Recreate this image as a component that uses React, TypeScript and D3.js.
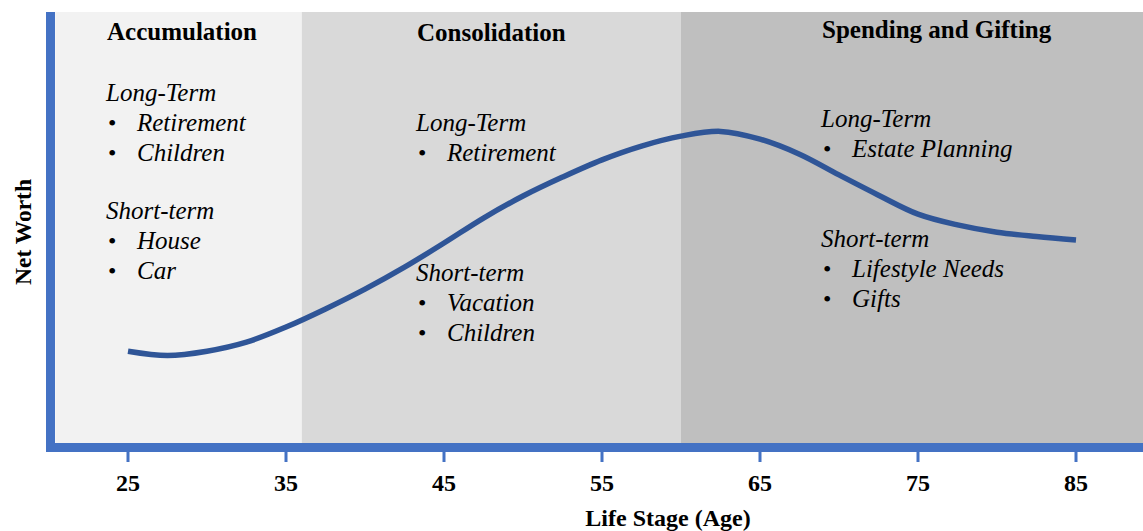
import React, { useEffect, useRef } from 'react';
import * as d3 from 'd3';

// Life stage bands (age ranges) and their headers
const stageNames = ['Accumulation', 'Consolidation', 'Spending and Gifting'];
const stageStart = [20.4, 36, 60];
const stageEnd = [36, 60, 89.3];
const stageFill = ['#f2f2f2', '#d9d9d9', '#bfbfbf'];

// Goals listed in each band
const longTermGoals = [['Retirement', 'Children'], ['Retirement'], ['Estate Planning']];
const shortTermGoals = [['House', 'Car'], ['Vacation', 'Children'], ['Lifestyle Needs', 'Gifts']];

// Net worth curve (arbitrary units, every 2.5 years)
const ages = [25, 27.5, 30, 32.5, 35, 37.5, 40, 42.5, 45, 47.5, 50, 52.5, 55, 57.5, 60, 62.5, 65, 67.5, 70, 72.5, 75, 77.5, 80, 82.5, 85];
const netWorth = [21.3, 20.3, 21.3, 23.4, 26.9, 31.1, 35.7, 40.8, 46.4, 52.2, 57.3, 61.7, 65.7, 68.9, 71.2, 72.3, 70.5, 67.0, 62.2, 57.5, 53.1, 50.6, 48.9, 47.9, 47.1];

const tickAges = [25, 35, 45, 55, 65, 75, 85];

const App: React.FC = () => {
  const svgRef = useRef<SVGSVGElement>(null);

  useEffect(() => {
    if (!svgRef.current) return;
    const svg = d3.select(svgRef.current);
    svg.selectAll('*').remove();

    const width = 1143;
    const top = 12;
    const bottom = 443;
    const font = '"Liberation Serif", "Times New Roman", serif';

    const x = d3.scaleLinear().domain([25, 85]).range([128, 1076]);
    const y = d3.scaleLinear().domain([0, 100]).range([bottom, top]);

    // Bands
    stageNames.forEach((name, i) => {
      const x0 = Math.max(x(stageStart[i]), 55);
      const x1 = Math.min(x(stageEnd[i]), width);
      svg.append('rect')
        .attr('x', x0).attr('y', top)
        .attr('width', x1 - x0).attr('height', bottom - top)
        .attr('fill', stageFill[i]);
    });

    // Text blocks
    const textX = [107, 417, 822];
    const headerY = [40, 41, 38];
    const longY = [101, 131, 127];
    const shortY = [219, 281, 247];
    const lineH = 30;

    stageNames.forEach((name, i) => {
      svg.append('text')
        .attr('x', textX[i]).attr('y', headerY[i])
        .attr('font-family', font).attr('font-weight', 'bold')
        .attr('font-size', 25).attr('fill', '#000')
        .text(name);

      const block = (label: string, items: string[], y0: number) => {
        svg.append('text')
          .attr('x', textX[i] - 1).attr('y', y0)
          .attr('font-family', font).attr('font-style', 'italic')
          .attr('font-size', 25).attr('fill', '#000')
          .text(label);
        items.forEach((item, k) => {
          const yy = y0 + lineH * (k + 1);
          svg.append('text')
            .attr('x', textX[i] + 1).attr('y', yy)
            .attr('font-family', font).attr('font-size', 24).attr('fill', '#000')
            .text('•');
          svg.append('text')
            .attr('x', textX[i] + 30).attr('y', yy)
            .attr('font-family', font).attr('font-style', 'italic')
            .attr('font-size', 25).attr('fill', '#000')
            .text(item);
        });
      };
      block('Long-Term', longTermGoals[i], longY[i]);
      block('Short-term', shortTermGoals[i], shortY[i]);
    });

    // Net worth curve
    const line = d3.line<number>()
      .x((_, i) => x(ages[i]))
      .y(d => y(d))
      .curve(d3.curveCatmullRom.alpha(0.5));
    svg.append('path')
      .datum(netWorth)
      .attr('d', line)
      .attr('fill', 'none')
      .attr('stroke', '#2f5597')
      .attr('stroke-width', 5.5);

    // Axes
    const axisColor = '#4472c4';
    svg.append('rect')
      .attr('x', 46).attr('y', top)
      .attr('width', 9).attr('height', 452 - top)
      .attr('fill', axisColor);
    svg.append('rect')
      .attr('x', 46).attr('y', bottom)
      .attr('width', width - 46).attr('height', 9)
      .attr('fill', axisColor);

    tickAges.forEach(a => {
      svg.append('rect')
        .attr('x', x(a) - 1.5).attr('y', 450)
        .attr('width', 3).attr('height', 12)
        .attr('fill', axisColor);
      svg.append('text')
        .attr('x', x(a)).attr('y', 491)
        .attr('text-anchor', 'middle')
        .attr('font-family', font).attr('font-weight', 'bold')
        .attr('font-size', 24).attr('fill', '#000')
        .text(a);
    });

    svg.append('text')
      .attr('x', 668).attr('y', 526)
      .attr('text-anchor', 'middle')
      .attr('font-family', font).attr('font-weight', 'bold')
      .attr('font-size', 24).attr('fill', '#000')
      .text('Life Stage (Age)');

    svg.append('text')
      .attr('transform', 'translate(31, 232) rotate(-90)')
      .attr('text-anchor', 'middle')
      .attr('font-family', font).attr('font-weight', 'bold')
      .attr('font-size', 23.5).attr('fill', '#000')
      .text('Net Worth');
  }, []);

  return (
    <svg
      ref={svgRef}
      width={1143}
      height={531}
      viewBox="0 0 1143 531"
      style={{ position: 'absolute', left: 0, top: 0, background: '#fff' }}
    />
  );
};

export default App;
